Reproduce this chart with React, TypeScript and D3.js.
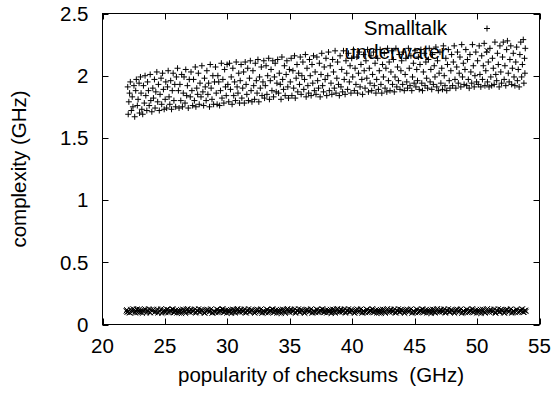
import React from "react";
import * as d3 from "d3";

const xTicks = [20, 25, 30, 35, 40, 45, 50, 55];
const xTickLabels = ["20", "25", "30", "35", "40", "45", "50", "55"];
const yTicks = [0, 0.5, 1, 1.5, 2, 2.5];
const yTickLabels = ["0", "0.5", "1", "1.5", "2", "2.5"];
const seriesNames = ["Smalltalk", "underwater"];
const xLabel = "popularity of checksums  (GHz)";
const yLabel = "complexity (GHz)";

const smalltalk: [number, number][] = [
[22.02,1.91],[22.06,1.69],[22.11,1.79],[22.17,1.86],[22.23,1.95],[22.31,1.72],[22.38,1.83],[22.44,1.75],[22.52,1.92],[22.58,1.67],[22.66,1.88],[22.71,1.97],[22.79,1.76],[22.85,1.81],[22.93,1.94],[22.97,1.70],
[23.04,1.99],[23.09,1.86],[23.15,1.73],[23.22,1.69],[23.28,1.92],[23.35,1.78],[23.41,2.0],[23.47,1.84],[23.55,1.72],[23.61,1.95],[23.68,1.88],[23.74,1.76],[23.82,2.01],[23.87,1.80],[23.95,1.71],
[24.03,1.90],[24.08,1.82],[24.16,1.97],[24.21,1.74],[24.27,1.87],[24.35,2.03],[24.42,1.79],[24.48,1.93],[24.55,1.72],[24.61,1.85],[24.69,1.98],[24.74,1.77],[24.81,2.02],[24.88,1.89],[24.94,1.73],
[25.02,1.81],[25.07,1.95],[25.14,1.74],[25.21,1.91],[25.26,2.04],[25.33,1.83],[25.39,1.77],[25.46,1.96],[25.53,1.73],[25.59,1.88],[25.66,2.02],[25.72,1.80],[25.79,1.93],[25.86,1.75],[25.92,1.99],
[26.01,2.06],[26.08,1.88],[26.13,1.74],[26.2,1.93],[26.27,1.80],[26.34,2.01],[26.4,1.75],[26.47,1.86],[26.53,1.99],[26.61,1.78],[26.67,2.05],[26.74,1.84],[26.8,1.92],[26.87,1.74],[26.95,1.97],
[27.03,1.83],[27.09,2.03],[27.16,1.88],[27.22,1.76],[27.29,1.97],[27.36,1.80],[27.43,2.07],[27.48,1.75],[27.55,1.90],[27.62,1.85],[27.68,2.02],[27.75,1.77],[27.81,1.94],[27.89,1.83],[27.96,2.08],
[28.04,1.87],[28.1,1.76],[28.17,1.98],[28.23,1.91],[28.3,1.80],[28.36,2.04],[28.44,1.85],[28.5,1.94],[28.57,1.75],[28.63,2.09],[28.7,1.90],[28.77,1.81],[28.84,2.00],[28.9,1.77],[28.97,1.95],
[29.05,2.07],[29.11,1.86],[29.18,1.77],[29.24,2.00],[29.31,1.95],[29.38,1.76],[29.45,1.88],[29.52,2.10],[29.57,1.82],[29.64,1.97],[29.72,1.78],[29.78,2.05],[29.85,1.91],[29.91,1.84],[29.98,2.09],
[30.04,1.93],[30.11,1.79],[30.17,2.10],[30.25,1.89],[30.31,1.99],[30.38,1.77],[30.44,2.06],[30.51,1.84],[30.58,1.95],[30.65,1.80],[30.71,2.11],[30.78,1.91],[30.85,1.86],[30.91,2.02],[30.98,1.78],
[31.03,1.96],[31.1,2.09],[31.16,1.82],[31.23,1.90],[31.3,2.03],[31.36,1.78],[31.43,2.11],[31.5,1.93],[31.56,1.85],[31.63,2.06],[31.69,1.80],[31.77,1.98],[31.84,2.12],[31.9,1.88],[31.97,1.79],
[32.05,2.04],[32.11,1.92],[32.18,1.81],[32.24,2.10],[32.32,1.96],[32.38,1.86],[32.45,2.13],[32.52,1.79],[32.58,1.99],[32.64,1.90],[32.72,2.07],[32.78,1.84],[32.85,1.95],[32.92,2.12],[32.98,1.82],
[33.04,1.92],[33.1,2.08],[33.17,1.85],[33.23,2.00],[33.31,2.14],[33.37,1.81],[33.44,1.96],[33.5,2.05],[33.57,1.88],[33.64,2.12],[33.7,1.83],[33.77,1.99],[33.83,2.10],[33.91,1.87],[33.97,1.94],
[34.03,2.13],[34.1,1.86],[34.16,2.02],[34.24,1.93],[34.3,1.81],[34.37,2.15],[34.43,1.97],[34.5,1.89],[34.57,2.08],[34.63,1.84],[34.71,2.01],[34.77,2.12],[34.84,1.91],[34.9,1.82],[34.97,2.05],
[35.04,1.95],[35.11,2.14],[35.17,1.84],[35.25,2.04],[35.31,1.90],[35.38,2.16],[35.44,1.82],[35.51,1.98],[35.58,2.09],[35.64,1.87],[35.71,2.02],[35.78,1.93],[35.84,2.15],[35.91,1.85],[35.97,2.00],
[36.05,2.11],[36.12,1.89],[36.18,1.97],[36.25,2.17],[36.31,1.83],[36.38,2.06],[36.45,1.92],[36.51,1.86],[36.58,2.13],[36.64,2.00],[36.71,1.84],[36.78,2.09],[36.84,1.94],[36.9,2.16],[36.97,1.88],
[37.03,2.03],[37.1,1.85],[37.17,2.15],[37.23,1.96],[37.3,1.90],[37.37,2.10],[37.43,1.83],[37.5,2.01],[37.56,2.18],[37.63,1.92],[37.7,1.87],[37.76,2.07],[37.83,1.97],[37.9,2.14],[37.96,1.84],
[38.04,2.00],[38.1,2.19],[38.17,1.88],[38.24,2.08],[38.3,1.94],[38.37,1.85],[38.43,2.13],[38.5,2.03],[38.57,1.90],[38.63,2.20],[38.7,1.86],[38.77,1.98],[38.83,2.11],[38.9,1.93],[38.97,1.84],
[39.03,2.16],[39.1,1.91],[39.16,2.05],[39.23,1.87],[39.3,2.20],[39.36,1.97],[39.43,1.85],[39.5,2.12],[39.56,2.02],[39.63,1.89],[39.7,2.18],[39.77,1.95],[39.83,2.08],[39.9,1.86],[39.96,2.14],
[40.04,1.99],[40.1,2.21],[40.17,1.88],[40.23,2.06],[40.3,1.93],[40.37,2.15],[40.43,1.86],[40.5,2.02],[40.57,2.19],[40.63,1.91],[40.7,2.09],[40.77,1.97],[40.83,1.85],[40.9,2.17],[40.96,2.04],
[41.03,1.90],[41.1,2.12],[41.17,1.98],[41.23,2.21],[41.3,1.87],[41.37,2.06],[41.43,1.94],[41.5,2.16],[41.56,1.88],[41.63,2.01],[41.7,2.19],[41.77,1.92],[41.83,2.10],[41.9,1.86],[41.96,1.97],
[42.04,2.14],[42.1,1.89],[42.17,2.04],[42.24,2.21],[42.3,1.93],[42.37,1.86],[42.43,2.09],[42.5,1.99],[42.57,2.18],[42.63,1.90],[42.7,2.06],[42.77,1.87],[42.83,2.22],[42.9,1.96],[42.96,2.11],
[43.03,1.88],[43.1,2.03],[43.17,2.20],[43.23,1.93],[43.3,2.13],[43.37,1.87],[43.43,1.99],[43.5,2.22],[43.57,1.91],[43.63,2.07],[43.7,1.96],[43.77,2.17],[43.83,1.89],[43.9,2.04],[43.96,2.12],
[44.04,1.93],[44.1,2.19],[44.17,1.88],[44.24,2.01],[44.3,2.14],[44.37,1.95],[44.43,1.90],[44.5,2.22],[44.57,2.06],[44.63,1.92],[44.7,2.16],[44.77,1.88],[44.83,1.99],[44.9,2.10],[44.96,1.94],
[45.03,2.20],[45.1,1.91],[45.17,2.05],[45.23,1.96],[45.3,2.15],[45.37,1.89],[45.43,2.09],[45.5,2.21],[45.57,1.94],[45.63,1.88],[45.7,2.03],[45.77,2.18],[45.83,1.92],[45.9,2.11],[45.96,1.98],
[46.04,1.90],[46.1,2.13],[46.17,2.22],[46.24,1.95],[46.3,2.05],[46.37,1.89],[46.43,2.17],[46.5,1.93],[46.57,2.08],[46.63,1.99],[46.7,2.23],[46.77,1.91],[46.83,2.12],[46.9,1.88],[46.96,2.02],
[47.03,2.19],[47.1,1.94],[47.17,2.06],[47.23,1.89],[47.3,2.24],[47.37,2.00],[47.43,1.92],[47.5,2.14],[47.57,1.88],[47.63,2.09],[47.7,2.21],[47.77,1.96],[47.83,1.90],[47.9,2.04],[47.96,2.17],
[48.04,1.92],[48.1,2.11],[48.17,2.24],[48.23,1.97],[48.3,1.90],[48.37,2.07],[48.43,2.19],[48.5,1.94],[48.57,2.02],[48.63,2.15],[48.7,1.91],[48.77,2.25],[48.83,1.99],[48.9,2.10],[48.96,1.93],
[49.03,2.05],[49.1,2.21],[49.17,1.92],[49.23,2.13],[49.3,1.97],[49.37,1.90],[49.43,2.17],[49.5,2.03],[49.57,1.94],[49.63,2.25],[49.7,2.08],[49.77,1.91],[49.83,2.00],[49.9,2.19],[49.96,1.95],
[50.04,2.12],[50.1,1.93],[50.17,2.24],[50.23,2.01],[50.3,1.91],[50.37,2.16],[50.43,1.97],[50.5,2.08],[50.57,2.26],[50.63,1.92],[50.7,2.04],[50.77,2.19],[50.83,1.95],[50.9,2.11],[50.96,1.91],
[51.03,2.22],[51.1,1.99],[51.17,1.92],[51.23,2.14],[51.3,2.06],[51.37,1.93],[51.43,2.27],[51.5,2.01],[51.57,1.96],[51.63,2.18],[51.7,2.09],[51.77,1.91],[51.83,2.24],[51.9,2.03],[51.96,1.94],
[52.04,2.15],[52.1,2.27],[52.17,1.97],[52.23,2.08],[52.3,1.92],[52.37,2.21],[52.43,2.28],[52.5,2.02],[52.57,1.95],[52.63,2.13],[52.7,2.24],[52.77,1.93],[52.83,2.06],[52.9,2.18],[52.96,1.99],
[53.03,1.92],[53.1,2.11],[53.17,2.23],[53.23,1.96],[53.3,2.05],[53.37,1.91],[53.43,2.17],[53.5,2.27],[53.57,1.99],[53.63,2.09],[53.7,2.29],[53.75,1.94],[53.8,2.14],[53.83,2.02],[53.86,2.22]
];

const underwater: [number, number][] = [
[21.9,.110],[21.94,.118],[21.97,.099],
[22.02,.108],[22.08,.103],[22.14,.095],[22.2,.094],[22.27,.121],[22.33,.113],[22.39,.102],[22.45,.126],[22.51,.115],[22.58,.1],[22.64,.092],[22.7,.109],[22.76,.124],[22.83,.096],[22.89,.104],[22.95,.122],
[23.01,.098],[23.07,.105],[23.13,.117],[23.2,.091],[23.26,.106],[23.32,.114],[23.38,.126],[23.45,.12],[23.52,.093],[23.57,.102],[23.63,.111],[23.7,.125],[23.77,.101],[23.82,.094],[23.88,.119],[23.95,.108],
[24.03,.113],[24.09,.121],[24.15,.096],[24.2,.1],[24.26,.104],[24.33,.115],[24.4,.123],[24.45,.093],[24.5,.099],[24.58,.109],[24.65,.118],[24.7,.126],[24.75,.091],[24.83,.101],[24.9,.109],[24.95,.118],
[25.02,.101],[25.07,.096],[25.14,.122],[25.2,.119],[25.28,.094],[25.33,.103],[25.39,.112],[25.45,.111],[25.52,.107],[25.58,.124],[25.63,.125],[25.7,.098],[25.77,.097],[25.83,.113],[25.88,.116],[25.95,.092],
[26.01,.106],[26.07,.116],[26.15,.093],[26.2,.107],[26.27,.119],[26.33,.09],[26.38,.103],[26.45,.123],[26.51,.114],[26.58,.1],[26.65,.09],[26.7,.112],[26.76,.122],[26.83,.127],[26.89,.105],[26.95,.104],
[27.02,.097],[27.07,.121],[27.14,.118],[27.2,.1],[27.25,.108],[27.33,.115],[27.4,.124],[27.45,.093],[27.51,.095],[27.58,.109],[27.64,.11],[27.7,.126],[27.75,.1],[27.83,.101],[27.88,.12],[27.95,.118],
[28.02,.112],[28.07,.105],[28.13,.094],[28.2,.091],[28.27,.105],[28.33,.114],[28.39,.121],[28.45,.12],[28.52,.1],[28.58,.102],[28.63,.117],[28.7,.125],[28.77,.092],[28.83,.094],[28.9,.108],[28.95,.108],
[29.01,.103],[29.07,.096],[29.15,.123],[29.2,.119],[29.26,.095],[29.33,.103],[29.38,.113],[29.45,.111],[29.5,.106],[29.58,.124],[29.64,.126],[29.7,.098],[29.76,.098],[29.83,.113],[29.89,.115],[29.95,.092],
[30.03,.109],[30.07,.116],[30.14,.096],[30.2,.107],[30.27,.12],[30.33,.09],[30.4,.101],[30.45,.123],[30.52,.116],[30.58,.1],[30.63,.093],[30.7,.112],[30.77,.123],[30.83,.127],[30.88,.103],[30.95,.104],
[31.02,.099],[31.07,.121],[31.13,.118],[31.2,.1],[31.27,.107],[31.33,.115],[31.38,.125],[31.45,.093],[31.51,.094],[31.58,.109],[31.65,.112],[31.7,.126],[31.76,.102],[31.83,.101],[31.9,.12],[31.95,.118],
[32.01,.114],[32.07,.105],[32.14,.097],[32.2,.091],[32.26,.103],[32.33,.114],[32.39,.122],[32.45,.12],[32.51,.098],[32.58,.102],[32.64,.119],[32.7,.125],[32.76,.092],[32.83,.094],[32.88,.11],[32.95,.108],
[33.03,.102],[33.07,.096],[33.15,.121],[33.2,.119],[33.27,.093],[33.33,.103],[33.38,.111],[33.45,.111],[33.52,.108],[33.58,.124],[33.64,.124],[33.7,.098],[33.75,.096],[33.83,.113],[33.89,.117],[33.95,.092],
[34.02,.107],[34.07,.116],[34.13,.094],[34.2,.107],[34.27,.12],[34.33,.09],[34.39,.104],[34.45,.123],[34.5,.113],[34.58,.1],[34.64,.091],[34.7,.112],[34.77,.123],[34.83,.127],[34.88,.106],[34.95,.104],
[35.01,.096],[35.07,.121],[35.15,.117],[35.2,.1],[35.26,.109],[35.33,.115],[35.4,.125],[35.45,.093],[35.51,.094],[35.58,.109],[35.63,.111],[35.7,.126],[35.77,.099],[35.83,.101],[35.89,.121],[35.95,.118],
[36.02,.111],[36.07,.105],[36.14,.095],[36.2,.091],[36.26,.106],[36.33,.114],[36.38,.122],[36.45,.12],[36.52,.101],[36.58,.102],[36.65,.116],[36.7,.125],[36.76,.093],[36.83,.094],[36.89,.107],[36.95,.108],
[37.01,.104],[37.07,.096],[37.13,.122],[37.2,.119],[37.27,.096],[37.33,.103],[37.4,.114],[37.45,.111],[37.51,.105],[37.58,.124],[37.63,.125],[37.7,.098],[37.77,.097],[37.83,.113],[37.88,.114],[37.95,.092],
[38.03,.11],[38.07,.116],[38.14,.097],[38.2,.107],[38.26,.121],[38.33,.09],[38.38,.1],[38.45,.123],[38.52,.117],[38.58,.1],[38.64,.092],[38.7,.112],[38.76,.124],[38.83,.127],[38.89,.102],[38.95,.104],
[39.02,.1],[39.07,.121],[39.15,.119],[39.2,.1],[39.26,.106],[39.33,.115],[39.39,.126],[39.45,.093],[39.51,.095],[39.58,.109],[39.64,.113],[39.7,.126],[39.75,.103],[39.83,.101],[39.88,.118],[39.95,.118],
[40.01,.112],[40.07,.105],[40.13,.095],[40.2,.091],[40.27,.104],[40.33,.114],[40.4,.124],[40.45,.12],[40.5,.099],[40.58,.102],[40.64,.12],[40.7,.125],[40.77,.093],[40.83,.094],[40.88,.109],[40.95,.108],
[41.03,.1],[41.07,.096],[41.14,.121],[41.2,.119],[41.26,.095],[41.33,.103],[41.39,.112],[41.45,.111],[41.52,.108],[41.58,.124],[41.63,.126],[41.7,.098],[41.76,.097],[41.83,.113],[41.9,.115],[41.95,.092],
[42.02,.107],[42.07,.116],[42.14,.093],[42.2,.107],[42.26,.12],[42.33,.09],[42.38,.103],[42.45,.123],[42.51,.114],[42.58,.1],[42.65,.091],[42.7,.112],[42.76,.122],[42.83,.127],[42.89,.105],[42.95,.104],
[43.01,.098],[43.07,.121],[43.13,.117],[43.2,.1],[43.27,.108],[43.33,.115],[43.39,.125],[43.45,.093],[43.52,.094],[43.58,.109],[43.64,.11],[43.7,.126],[43.77,.1],[43.83,.101],[43.88,.12],[43.95,.118],
[44.03,.113],[44.07,.105],[44.15,.096],[44.2,.091],[44.26,.105],[44.33,.114],[44.4,.122],[44.45,.12],[44.51,.1],[44.58,.102],[44.63,.118],[44.7,.125],[44.77,.092],[44.83,.094],[44.89,.108],[44.95,.108],
[45.02,.102],[45.07,.096],[45.14,.123],[45.2,.119],[45.27,.094],[45.33,.103],[45.38,.112],[45.45,.111],[45.51,.107],[45.58,.124],[45.65,.124],[45.7,.098],[45.76,.098],[45.83,.113],[45.88,.116],[45.95,.092],
[46.01,.109],[46.07,.116],[46.15,.095],[46.2,.107],[46.26,.12],[46.33,.09],[46.39,.102],[46.45,.123],[46.52,.116],[46.58,.1],[46.63,.093],[46.7,.112],[46.77,.123],[46.83,.127],[46.88,.104],[46.95,.104],
[47.02,.099],[47.07,.121],[47.13,.118],[47.2,.1],[47.27,.106],[47.33,.115],[47.38,.125],[47.45,.093],[47.51,.095],[47.58,.109],[47.64,.112],[47.7,.126],[47.76,.101],[47.83,.101],[47.9,.119],[47.95,.118],
[48.01,.112],[48.07,.105],[48.14,.097],[48.2,.091],[48.26,.103],[48.33,.114],[48.39,.123],[48.45,.12],[48.52,.099],[48.58,.102],[48.63,.117],[48.7,.125],[48.76,.091],[48.83,.094],[48.89,.11],[48.95,.108],
[49.03,.101],[49.07,.096],[49.15,.122],[49.2,.119],[49.26,.095],[49.33,.103],[49.38,.113],[49.45,.111],[49.51,.106],[49.58,.124],[49.64,.126],[49.7,.098],[49.75,.097],[49.83,.113],[49.89,.115],[49.95,.092],
[50.02,.108],[50.07,.116],[50.13,.094],[50.2,.107],[50.27,.121],[50.33,.09],[50.39,.104],[50.45,.123],[50.5,.114],[50.58,.1],[50.64,.092],[50.7,.112],[50.77,.122],[50.83,.127],[50.88,.106],[50.95,.104],
[51.01,.097],[51.07,.121],[51.15,.116],[51.2,.1],[51.26,.107],[51.33,.115],[51.4,.124],[51.45,.093],[51.51,.093],[51.58,.109],[51.63,.11],[51.7,.126],[51.77,.1],[51.83,.101],[51.89,.12],[51.95,.118],
[52.02,.112],[52.07,.105],[52.14,.095],[52.2,.091],[52.26,.104],[52.33,.114],[52.38,.122],[52.45,.12],[52.52,.1],[52.58,.102],[52.65,.118],[52.7,.125],[52.76,.093],[52.83,.094],[52.89,.109],[52.95,.108],
[53.01,.103],[53.07,.096],[53.13,.121],[53.2,.119],[53.27,.096],[53.33,.103],[53.39,.112],[53.45,.111],[53.51,.107],[53.58,.124],[53.63,.124],[53.7,.098],[53.76,.098],[53.82,.113],[53.88,.114],[53.92,.105]
];

const FONT = "'Liberation Sans', Arial, Helvetica, sans-serif";
const FS = 20.5;

const plusPath = (cx: number, cy: number, r: number) =>
  `M${cx - r},${cy}h${2 * r}M${cx},${cy - r}v${2 * r}`;
const crossPath = (cx: number, cy: number, r: number) =>
  `M${cx - r},${cy - r}l${2 * r},${2 * r}M${cx - r},${cy + r}l${2 * r},${-2 * r}`;

export default function App() {
  const W = 554, H = 393;
  const L = 102.5, R = 539.5, T = 13.5, B = 324.5;
  const x = d3.scaleLinear().domain([20, 55]).range([L, R]);
  const y = d3.scaleLinear().domain([0, 2.5]).range([B, T]);
  const tick = 6;

  const plusD = smalltalk.map(([a, b]) => plusPath(x(a), y(b), 3)).join("");
  const crossD = underwater.map(([a, b]) => crossPath(x(a), y(b), 2.6)).join("");

  const keyTextX = 447;
  const keySampleX = 487;
  const key1Y = 28.5;
  const key2Y = 50.5;

  return (
    <svg width={W} height={H} style={{ position: "absolute", left: 0, top: 0, background: "#fff" }}
      fontFamily={FONT} fontSize={FS}>
      <rect x={0} y={0} width={W} height={H} fill="#fff" />
      <g stroke="#000" strokeWidth={1}>
        {xTicks.map((t) => (
          <g key={"xt" + t}>
            <line x1={Math.round(x(t)) + 0.5} x2={Math.round(x(t)) + 0.5} y1={B} y2={B - tick} />
            <line x1={Math.round(x(t)) + 0.5} x2={Math.round(x(t)) + 0.5} y1={T} y2={T + tick} />
          </g>
        ))}
        {yTicks.map((t) => (
          <g key={"yt" + t}>
            <line x1={L} x2={L + tick} y1={Math.round(y(t)) + 0.5} y2={Math.round(y(t)) + 0.5} />
            <line x1={R} x2={R - tick} y1={Math.round(y(t)) + 0.5} y2={Math.round(y(t)) + 0.5} />
          </g>
        ))}
      </g>
      {xTicks.map((t, i) => (
        <text key={"xl" + t} x={x(t)} y={353} textAnchor="middle" fill="#000">{xTickLabels[i]}</text>
      ))}
      {yTicks.map((t, i) => (
        <text key={"yl" + t} x={88.5} y={y(t) + 7.3} textAnchor="end" fill="#000">{yTickLabels[i]}</text>
      ))}
      <text x={(L + R) / 2} y={382} textAnchor="middle" fill="#000" style={{ whiteSpace: "pre" }}>{xLabel}</text>
      <text transform={`translate(26,${(T + B) / 2}) rotate(-90)`} textAnchor="middle" fill="#000">{yLabel}</text>
      <path d={crossD} stroke="#000" strokeWidth={1} fill="none" />
      <path d={plusD} stroke="#000" strokeWidth={1} fill="none" />
      <text x={keyTextX} y={35} textAnchor="end" fill="#000">{seriesNames[0]}</text>
      <path d={plusPath(keySampleX, key1Y, 3)} stroke="#000" strokeWidth={1} fill="none" />
      <text x={keyTextX} y={58.5} textAnchor="end" fill="#000">{seriesNames[1]}</text>
      <path d={crossPath(keySampleX, key2Y, 2.6)} stroke="#000" strokeWidth={1} fill="none" />
      <rect x={L} y={T} width={R - L} height={B - T} fill="none" stroke="#000" strokeWidth={1} />
    </svg>
  );
}
